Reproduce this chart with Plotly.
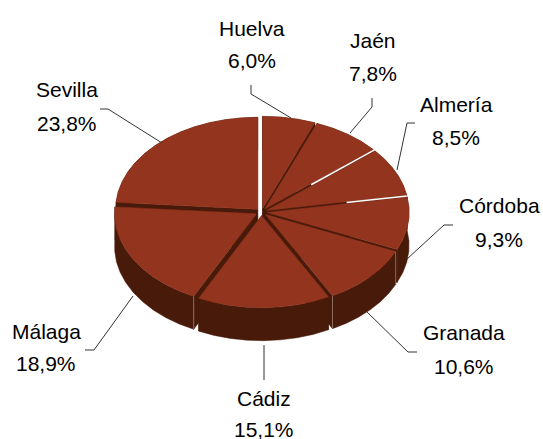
import math
import plotly.graph_objects as go

# Data
provinces = ["Huelva", "Jaén", "Almería", "Córdoba", "Granada", "Cádiz", "Málaga", "Sevilla"]
shares = [6.0, 7.8, 8.5, 9.3, 10.6, 15.1, 18.9, 23.8]

# Pie geometry (plot units equal screen pixels)
CX, CY, RX, RY = 261.5, 212, 142, 92
DEPTH, PULL, STEP = 33, 0.04, 6.5
TOP, WALL, CREASE, LEADER = "#93341E", "#481A0A", "#9A7F74", "#333333"
DRAW_ORDER = ["Sevilla", "Huelva", "Jaén", "Almería", "Córdoba", "Málaga", "Granada", "Cádiz"]
CREASES = {"Granada": (True, True), "Málaga": (True, False)}
WHITE_GAPS = [("Jaén", "Almería", 0.42), ("Almería", "Córdoba", 0.57)]

label_pos = {
    "Huelva": (252, 28, 60), "Jaén": (373, 40, 73), "Almería": (456, 104, 137),
    "Córdoba": (499, 205, 239), "Granada": (464, 332, 366), "Cádiz": (264, 398, 429),
    "Málaga": (46, 331, 363), "Sevilla": (67, 89, 123),
}
leaders = {
    "Huelva": [(251, 85), (251, 94), (291, 118)],
    "Jaén": [(372, 98), (372, 107), (350, 133)],
    "Almería": [(415, 123), (407, 123), (397, 170)],
    "Córdoba": [(453, 225), (444, 225), (407, 259)],
    "Granada": [(417, 352), (408, 352), (367, 312)],
    "Cádiz": [(264, 345), (264, 380)],
    "Málaga": [(85, 350), (94, 350), (133, 296)],
    "Sevilla": [(100, 109), (108, 109), (162, 143)],
}

total = sum(shares)
slices = {}
cum = 0.0
for name, v in zip(provinces, shares):
    a0 = cum / total * 2 * math.pi
    cum += v
    a1 = cum / total * 2 * math.pi
    mid = (a0 + a1) / 2
    ox = CX + PULL * RX * math.sin(mid)
    oy = CY - PULL * RY * math.cos(mid)
    n = max(2, round(math.degrees(a1 - a0) / STEP))
    arc = [(ox + RX * math.sin(a0 + (a1 - a0) * i / n),
            oy - RY * math.cos(a0 + (a1 - a0) * i / n)) for i in range(n + 1)]
    slices[name] = {"o": (ox, oy), "arc": arc}


def poly(points, color):
    xs = [p[0] for p in points] + [points[0][0]]
    ys = [p[1] for p in points] + [points[0][1]]
    return go.Scatter(x=xs, y=ys, mode="lines", fill="toself", fillcolor=color,
                      line=dict(color=color, width=0.5), hoverinfo="skip", showlegend=False)


def stroke(points, color, width):
    return go.Scatter(x=[p[0] for p in points], y=[p[1] for p in points], mode="lines",
                      line=dict(color=color, width=width), hoverinfo="skip", showlegend=False)


def down(p):
    return (p[0], p[1] + DEPTH)


fig = go.Figure()
for name in DRAW_ORDER:
    o, arc = slices[name]["o"], slices[name]["arc"]
    fig.add_trace(poly([o, arc[0], down(arc[0]), down(o)], WALL))
    fig.add_trace(poly([o, arc[-1], down(arc[-1]), down(o)], WALL))
    fig.add_trace(poly(arc + [down(p) for p in reversed(arc)], WALL))
    fig.add_trace(poly([o] + arc, TOP))
    if name in CREASES:
        for flag, p in zip(CREASES[name], (arc[0], arc[-1])):
            if flag:
                fig.add_trace(stroke([p, down(p)], CREASE, 0.8))

# The outer part of these two gaps shows the page through, not the wall behind
for first, second, start in WHITE_GAPS:
    s1, s2 = slices[first], slices[second]
    ox = (s1["o"][0] + s2["o"][0]) / 2
    oy = (s1["o"][1] + s2["o"][1]) / 2
    ex = (s1["arc"][-1][0] + s2["arc"][0][0]) / 2
    ey = (s1["arc"][-1][1] + s2["arc"][0][1]) / 2
    fig.add_trace(stroke([(ox + (ex - ox) * start, oy + (ey - oy) * start), (ex, ey)], "white", 1.5))

for name in provinces:
    fig.add_trace(stroke(leaders[name], LEADER, 1))

annotations = []
for name, v in zip(provinces, shares):
    x, y1, y2 = label_pos[name]
    pct = f"{v:.1f}".replace(".", ",") + "%"
    for text, y in ((name, y1), (pct, y2)):
        annotations.append(dict(x=x, y=y, text=text, showarrow=False, xanchor="center", yanchor="middle",
                                font=dict(family="Liberation Sans", size=21, color="#000000")))

fig.update_layout(
    width=543, height=439, margin=dict(l=0, r=0, t=0, b=0),
    paper_bgcolor="white", plot_bgcolor="white", showlegend=False, annotations=annotations,
    xaxis=dict(range=[0, 543], visible=False, fixedrange=True),
    yaxis=dict(range=[439, 0], visible=False, fixedrange=True),
)
fig.write_html("out.html", config={"displayModeBar": False},
               post_script="document.body.style.margin='0';document.documentElement.style.overflow='hidden';")
